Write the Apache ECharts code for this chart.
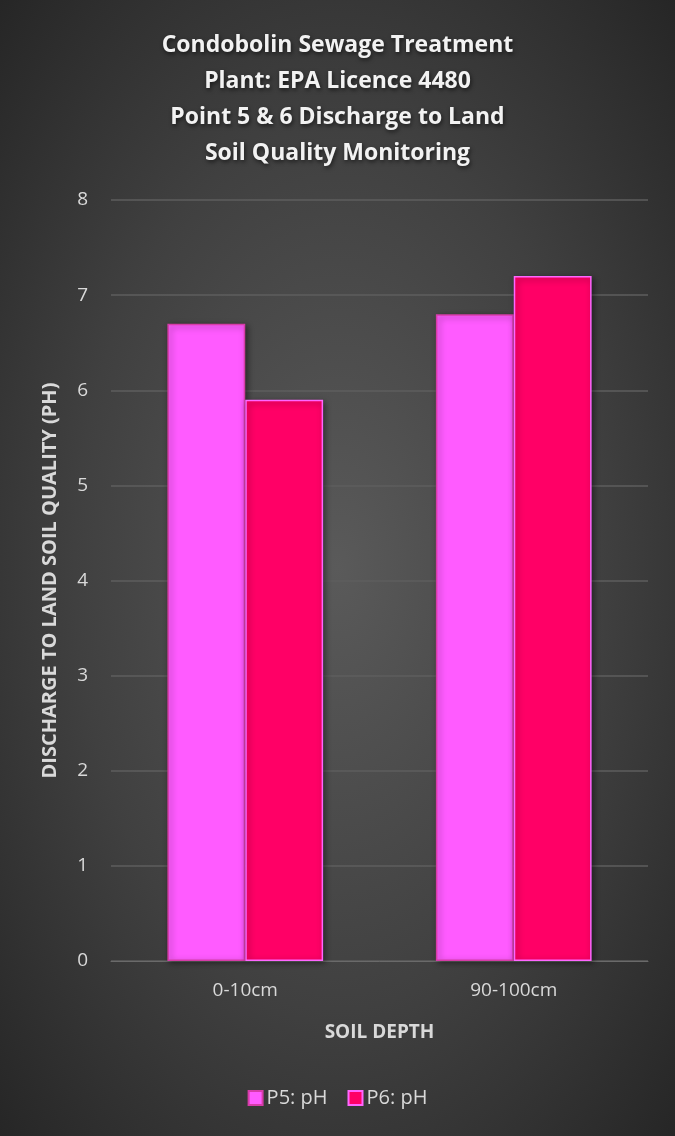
<!DOCTYPE html>
<html><head><meta charset="utf-8">
<script src="https://cdn.jsdelivr.net/npm/echarts@6/dist/echarts.min.js"></script>
<style>
html,body{margin:0;padding:0;}
#c{width:675px;height:1136px;background:radial-gradient(ellipse at 50% 50%, #5a5a5a 0%, #404040 55%, #262626 100%);}
</style></head>
<body><div id="c"></div>
<script>
const categories = ['0-10cm', '90-100cm'];
const p5 = [6.7, 6.8];
const p6 = [5.9, 7.2];
const seriesNames = ['P5: pH', 'P6: pH'];

const chart = echarts.init(document.getElementById('c'));
const font = 'Open Sans, Noto Sans, sans-serif';
chart.setOption({
  backgroundColor: 'transparent',
  title: {
    text: 'Condobolin Sewage Treatment\nPlant: EPA Licence 4480\nPoint 5 & 6 Discharge to Land\nSoil Quality Monitoring',
    left: 'center', top: 22,
    textStyle: {
      color: '#f2f2f2', fontFamily: font, fontWeight: 'bold', fontSize: 23, lineHeight: 36,
      textShadowColor: 'rgba(0,0,0,0.6)', textShadowBlur: 4, textShadowOffsetX: 1, textShadowOffsetY: 2
    }
  },
  legend: {
    data: seriesNames, bottom: 23, left: 'center', itemWidth: 14, itemHeight: 14, itemGap: 20,
    icon: 'rect',
    textStyle: { color: '#d9d9d9', fontFamily: font, fontSize: 20, padding: [0, 0, 0, -1] }
  },
  grid: { left: 111, right: 27, top: 200, bottom: 175 },
  xAxis: {
    type: 'category', data: categories,
    name: 'SOIL DEPTH', nameLocation: 'middle', nameGap: 62,
    nameTextStyle: { color: '#d9d9d9', fontFamily: font, fontWeight: 'bold', fontSize: 19 },
    axisLine: { lineStyle: { color: '#6a6a6a', width: 1 } },
    axisTick: { show: false },
    axisLabel: { color: '#d9d9d9', fontFamily: font, fontSize: 19, margin: 20 }
  },
  yAxis: {
    type: 'value', min: 0, max: 8, interval: 1,
    name: 'DISCHARGE TO LAND SOIL QUALITY (PH)', nameLocation: 'middle', nameGap: 51,
    nameTextStyle: { color: '#d9d9d9', fontFamily: font, fontWeight: 'bold', fontSize: 20 },
    axisLine: { show: false }, axisTick: { show: false },
    axisLabel: { color: '#d9d9d9', fontFamily: font, fontSize: 19, margin: 23 },
    splitLine: { lineStyle: { color: '#5e5e5e', width: 1.5 } }
  },
  series: [
    { name: seriesNames[0], type: 'bar', data: p5, barGap: '0%', barCategoryGap: '42%',
      itemStyle: { color: '#ff5bff', borderColor: '#d63ca8', borderWidth: 1.5,
        shadowColor: 'rgba(0,0,0,0.45)', shadowBlur: 6, shadowOffsetX: 2, shadowOffsetY: 2 } },
    { name: seriesNames[1], type: 'bar', data: p6,
      itemStyle: { color: '#ff0066', borderColor: '#ff66ff', borderWidth: 1.5,
        shadowColor: 'rgba(0,0,0,0.45)', shadowBlur: 6, shadowOffsetX: 2, shadowOffsetY: 2 } }
  ]
});
</script></body></html>
